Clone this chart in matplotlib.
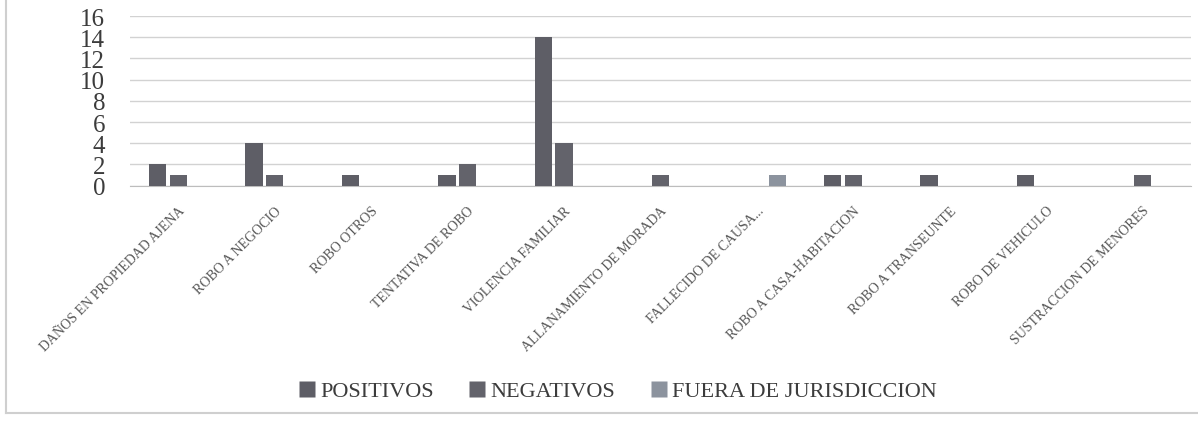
import numpy as np
import matplotlib.pyplot as plt
from matplotlib.lines import Line2D

categories = ['DAÑOS EN PROPIEDAD AJENA', 'ROBO A NEGOCIO', 'ROBO OTROS',
              'TENTATIVA DE ROBO', 'VIOLENCIA FAMILIAR', 'ALLANAMIENTO DE MORADA',
              'FALLECIDO DE CAUSA...', 'ROBO A CASA-HABITACION', 'ROBO A TRANSEUNTE',
              'ROBO DE VEHICULO', 'SUSTRACCION DE MENORES']
positivos = [2, 4, 1, 1, 14, 0, 0, 1, 1, 1, 0]
negativos = [1, 1, 0, 2, 4, 1, 0, 1, 0, 0, 1]
fuera = [0, 0, 0, 0, 0, 0, 1, 0, 0, 0, 0]
series_names = ['POSITIVOS', 'NEGATIVOS', 'FUERA DE JURISDICCION']
y_ticks = [0, 2, 4, 6, 8, 10, 12, 14, 16]

plt.rcParams['font.family'] = ['Liberation Serif', 'DejaVu Serif']

fig = plt.figure(figsize=(11.98, 4.27), dpi=100)
ax = fig.add_axes([130 / 1198, 1 - 186.7 / 427, (1191 - 130) / 1198, (186.7 - 17) / 427])

x = np.arange(len(categories))
width = 0.18
step = 0.215
colors = ['#5e5e66', '#63636b', '#8c939e']

for k, vals in enumerate([positivos, negativos, fuera]):
    ax.bar(x + (k - 1) * step, vals, width, color=colors[k], edgecolor='none',
           label=series_names[k], zorder=3)

ax.set_xlim(-0.5, len(categories) - 0.5)
ax.set_ylim(0, 16)
ax.set_yticks(y_ticks)
ax.set_yticklabels([str(v) for v in y_ticks], fontsize=18, color='#3c3c3c')
ax.yaxis.grid(True, color='#d2d2d2', lw=1.0, zorder=0)
ax.set_axisbelow(True)
ax.tick_params(axis='y', length=0, pad=18)
ax.tick_params(axis='x', length=0, pad=13)
for s in ['top', 'right', 'left']:
    ax.spines[s].set_visible(False)
ax.spines['bottom'].set_color('#bdbdbd')

ax.set_xticks(x)
ax.set_xticklabels(categories, rotation=45, ha='right', va='top',
                   rotation_mode='anchor', fontsize=10, color='#555555')

handles = [Line2D([0], [0], marker='s', linestyle='none', markersize=11,
                  markerfacecolor=c, markeredgecolor='none') for c in colors]
fig.legend(handles, series_names, loc='center', bbox_to_anchor=(618 / 1198, 1 - 392 / 427),
           ncol=3, frameon=False, fontsize=16, handlelength=0.7, handletextpad=0.25,
           columnspacing=1.6, labelcolor='#3c3c3c')

# marco del grafico
fig.add_artist(Line2D([6 / 1198, 6 / 1198], [1 - 414 / 427, 1], color='#cfcfcf', lw=1.5))
fig.add_artist(Line2D([6 / 1198, 1], [1 - 414 / 427, 1 - 414 / 427], color='#cfcfcf', lw=1.5))

fig.savefig('out.png', dpi=100, facecolor='white')
